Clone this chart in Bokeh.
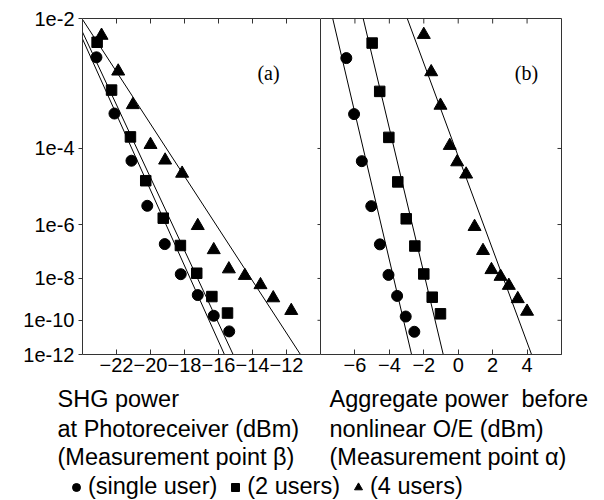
import numpy as np
from bokeh.plotting import figure
from bokeh.models import (Range1d, FixedTicker, Label, Legend, LegendItem, LinearAxis)
from bokeh.layouts import column, row
from bokeh.embed import file_html
from bokeh.resources import INLINE

# ---------------- data (BER given as log10(BER)) ----------------
# panel (a): SHG power at photoreceiver (dBm)
a_single_x = [-23.18, -22.12, -21.12, -20.19, -19.16, -18.22, -17.22, -16.28, -15.37]
a_single_logber = [-2.46, -3.32, -4.27, -5.43, -6.66, -7.82, -8.74, -9.76, -10.61]
a_two_x = [-23.14, -22.29, -21.18, -20.28, -19.25, -18.24, -17.28, -16.39, -15.47]
a_two_logber = [-2.27, -2.93, -3.76, -4.75, -5.80, -6.71, -7.78, -8.81, -9.62]
a_four_x = [-22.88, -21.90, -21.04, -20.0, -19.14, -18.14, -17.22, -16.28, -15.39,
            -14.45, -13.53, -12.78, -11.72]
a_four_logber = [-2.19, -2.65, -3.17, -3.92, -4.26, -4.57, -6.04, -6.87, -7.61,
                 -7.88, -8.28, -8.88, -9.50]
# fitted lines, panel (a)
a_fit_single_x = [-24.0, -15.65]
a_fit_single_logber = [-2.23, -12.0]
a_fit_two_x = [-24.0, -15.14]
a_fit_two_logber = [-2.15, -12.0]
a_fit_four_x = [-24.0, -11.18]
a_fit_four_logber = [-2.01, -12.0]

# panel (b): aggregate power before nonlinear O/E (dBm)
b_single_x = [-6.5, -6.05, -5.6, -5.05, -4.55, -4.05, -3.55, -3.05, -2.55]
b_single_logber = [-2.47, -3.33, -4.28, -5.44, -6.67, -7.85, -8.78, -9.80, -10.63]
b_two_x = [-5.0, -4.56, -4.03, -3.51, -3.02, -2.52, -2.0, -1.51, -1.03]
b_two_logber = [-2.28, -2.95, -3.77, -4.78, -5.82, -6.73, -7.81, -8.84, -9.66]
b_four_x = [-2.0, -1.57, -1.03, -0.49, -0.06, 0.46, 0.95, 1.44, 1.93, 2.46, 2.94, 3.46, 4.0]
b_four_logber = [-2.18, -2.66, -3.18, -3.94, -4.30, -4.59, -6.07, -6.90, -7.64,
                 -7.92, -8.31, -8.92, -9.54]
b_fit_single_x = [-7.29, -2.71]
b_fit_single_logber = [-2.0, -12.0]
b_fit_two_x = [-5.52, -0.87]
b_fit_two_logber = [-2.0, -12.0]
b_fit_four_x = [-2.96, 4.26]
b_fit_four_logber = [-2.0, -12.0]

# axes
a_xrange = (-24, -10)
b_xrange = (-8, 6)
a_xticks = [-22, -20, -18, -16, -14, -12]
b_xticks = [-6, -4, -2, 0, 2, 4]
ber_tick_logs = [-2, -4, -6, -8, -10, -12]
ber_tick_labels = ["1e-2", "1e-4", "1e-6", "1e-8", "1e-10", "1e-12"]

legend_labels = ["(single user)", "(2 users)", "(4 users)"]
left_caption = ["SHG power", "at Photoreceiver (dBm)", "(Measurement point \u03b2)"]
right_caption = ["Aggregate power\u00a0 before", "nonlinear O/E (dBm)", "(Measurement point \u03b1)"]

SANS = "Liberation Sans"
SERIF = "Liberation Serif"
INK = "#333333"
CAPTION_SIZE = "23.5px"


def qy(logber):
    """BER scale: -log10(-log10(BER))"""
    return (-np.log10(-np.asarray(logber, dtype=float))).tolist()


ytick_vals = qy(ber_tick_logs)
y_lo, y_hi = qy([-12.0])[0] - 1e-9, qy([-2.0])[0] + 1e-9
FRAME_H = 336.0


def make_panel(width, bl, br, xr, xticks, yaxis_side, frame_w):
    p = figure(width=width, height=384, x_range=Range1d(*xr), y_range=Range1d(y_lo, y_hi),
               output_backend="svg", toolbar_location=None,
               min_border_left=bl, min_border_right=br, min_border_top=18, min_border_bottom=30,
               x_axis_location="below", y_axis_location=yaxis_side)
    p.grid.visible = False
    p.outline_line_color = INK
    p.outline_line_width = 1
    p.background_fill_color = "white"
    p.border_fill_color = "white"
    xa = p.xaxis[0]
    xa.ticker = FixedTicker(ticks=xticks)
    xa.major_tick_in = 5
    xa.major_tick_out = 0
    xa.major_tick_line_color = INK
    xa.minor_tick_line_color = None
    xa.axis_line_color = INK
    xa.major_label_text_font = SANS
    xa.major_label_text_font_size = "20px"
    xa.major_label_text_color = "black"
    xa.major_label_standoff = 3
    # mirrored inward ticks on the top edge
    dy = (y_hi - y_lo) * 5 / FRAME_H
    p.segment(x0=xticks, y0=[y_hi] * len(xticks), x1=xticks, y1=[y_hi - dy] * len(xticks),
              line_color=INK, line_width=1)
    dx = (xr[1] - xr[0]) * 4 / frame_w
    return p, dx


# ---------------- panel (a) ----------------
pa, dxa = make_panel(320, 82, 0, a_xrange, a_xticks, "left", 238.0)
# the shared edge is drawn by panel (b); top edge drawn as a bare axis line
pa.outline_line_color = None
pa.add_layout(LinearAxis(ticker=FixedTicker(ticks=[]), axis_line_color=INK,
                         major_tick_line_color=None, minor_tick_line_color=None,
                         major_label_standoff=0), "above")
ya = pa.yaxis[0]
ya.ticker = FixedTicker(ticks=ytick_vals)
ya.major_label_overrides = {v: t for v, t in zip(ytick_vals, ber_tick_labels)}
ya.minor_tick_line_color = None
ya.axis_line_color = INK
ya.major_tick_line_color = INK
ya.major_tick_in = 0
ya.major_tick_out = 4
ya.major_label_standoff = 4
ya.major_label_text_font = SANS
ya.major_label_text_font_size = "20px"
ya.major_label_text_color = "black"
# inward ticks on the shared right edge
pa.segment(x0=[a_xrange[1]] * len(ytick_vals), y0=ytick_vals,
           x1=[a_xrange[1] - dxa * 0.75] * len(ytick_vals), y1=ytick_vals,
           line_color=INK, line_width=1)

for xs, ls in [(a_fit_single_x, a_fit_single_logber), (a_fit_two_x, a_fit_two_logber),
               (a_fit_four_x, a_fit_four_logber)]:
    pa.line(xs, qy(ls), line_color="black", line_width=1)
pa.scatter(a_single_x, qy(a_single_logber), marker="circle", size=11, color="black")
pa.scatter(a_two_x, qy(a_two_logber), marker="square", size=10.5, color="black")
pa.scatter(a_four_x, qy(a_four_logber), marker="triangle", size=13, color="black")

pa.add_layout(Label(x=186, y=282, x_units="screen", y_units="screen", text="(a)",
                    text_font=SERIF, text_font_size="20px", text_align="center",
                    text_baseline="middle", text_color="black"))
pa.add_layout(Label(x=-57, y=171, x_units="screen", y_units="screen", text="BER",
                    angle=np.pi / 2, text_font=SANS, text_font_size="17.5px",
                    text_align="center", text_baseline="middle", text_color="black"))

# ---------------- panel (b) ----------------
pb, dxb = make_panel(284, 0, 43, b_xrange, b_xticks, None, 241.0)
# inward ticks on the right edge
pb.segment(x0=[b_xrange[1]] * len(ytick_vals), y0=ytick_vals,
           x1=[b_xrange[1] - dxb] * len(ytick_vals), y1=ytick_vals,
           line_color=INK, line_width=1)

for xs, ls in [(b_fit_single_x, b_fit_single_logber), (b_fit_two_x, b_fit_two_logber),
               (b_fit_four_x, b_fit_four_logber)]:
    pb.line(xs, qy(ls), line_color="black", line_width=1)
pb.scatter(b_single_x, qy(b_single_logber), marker="circle", size=11, color="black")
pb.scatter(b_two_x, qy(b_two_logber), marker="square", size=10.5, color="black")
pb.scatter(b_four_x, qy(b_four_logber), marker="triangle", size=13, color="black")

pb.add_layout(Label(x=206, y=282, x_units="screen", y_units="screen", text="(b)",
                    text_font=SERIF, text_font_size="20px", text_align="center",
                    text_baseline="middle", text_color="black"))

# ---------------- captions + legend ----------------
pc = figure(width=604, height=116, x_range=Range1d(0, 1), y_range=Range1d(0, 1),
            output_backend="svg", toolbar_location=None, min_border=0,
            x_axis_location=None, y_axis_location=None)
pc.grid.visible = False
pc.outline_line_color = None
pc.background_fill_color = "white"
pc.border_fill_color = "white"

row_y = [101.5, 71.5, 43.5]
for txt, yy in zip(left_caption, row_y):
    pc.add_layout(Label(x=57, y=yy, x_units="screen", y_units="screen", text=txt,
                        text_font=SANS, text_font_size=CAPTION_SIZE, text_baseline="middle",
                        text_color="black"))
for txt, yy in zip(right_caption, row_y):
    pc.add_layout(Label(x=329, y=yy, x_units="screen", y_units="screen", text=txt,
                        text_font=SANS, text_font_size=CAPTION_SIZE, text_baseline="middle",
                        text_color="black"))

# legend glyph renderers (their single point lies outside the visible range)
r1 = pc.scatter(x=[-5], y=[-5], marker="circle", size=8, color="black")
r2 = pc.scatter(x=[-5], y=[-5], marker="square", size=8, color="black")
r3 = pc.scatter(x=[-5], y=[-5], marker="triangle", size=8, color="black")
leg = Legend(items=[LegendItem(label=legend_labels[0], renderers=[r1]),
                    LegendItem(label=legend_labels[1], renderers=[r2]),
                    LegendItem(label=legend_labels[2], renderers=[r3])],
             orientation="horizontal", location=(66, 0), padding=0, margin=0,
             spacing=8, label_standoff=2, glyph_width=20, glyph_height=20,
             label_text_font=SANS, label_text_font_size=CAPTION_SIZE, label_text_color="black",
             border_line_color=None, background_fill_alpha=0)
pc.add_layout(leg, "center")

layout = column(row(pa, pb), pc)
open("out.html", "w").write(file_html(layout, INLINE))
